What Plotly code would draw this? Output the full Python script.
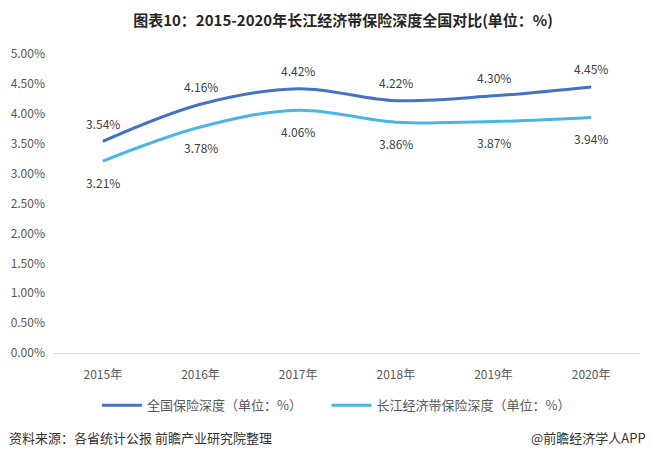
import plotly.graph_objects as go

# data
years = ['2015年', '2016年', '2017年', '2018年', '2019年', '2020年']
national = [3.54, 4.16, 4.42, 4.22, 4.30, 4.45]
yangtze = [3.21, 3.78, 4.06, 3.86, 3.87, 3.94]

font_family = 'Noto Sans CJK SC, Microsoft YaHei, sans-serif'
text_color = '#404040'

fig = go.Figure()

fig.add_trace(go.Scatter(
    x=years, y=national,
    name='全国保险深度（单位：%）\u3000\u3000',
    mode='lines',
    line=dict(color='#4472C4', width=3, shape='spline', smoothing=1.0),
))

fig.add_trace(go.Scatter(
    x=years, y=yangtze,
    name='长江经济带保险深度（单位：%）',
    mode='lines',
    line=dict(color='#4BB5E6', width=3, shape='spline', smoothing=1.0),
))

# value labels
for yr, v in zip(years, national):
    fig.add_annotation(x=yr, y=v, text=f'{v:.2f}%', showarrow=False,
                       yshift=18, font=dict(size=12, color=text_color))
for yr, v in zip(years, yangtze):
    fig.add_annotation(x=yr, y=v, text=f'{v:.2f}%', showarrow=False,
                       yshift=-21, font=dict(size=12, color=text_color))

fig.update_layout(
    width=651, height=456,
    margin=dict(l=54, r=11, t=54, b=103),
    paper_bgcolor='white',
    plot_bgcolor='white',
    font=dict(family=font_family, size=12, color='#595959'),
    title=dict(
        text='<b>图表10：2015-2020年长江经济带保险深度全国对比(单位：%)</b>',
        x=0.527, xanchor='center', y=0.955, yanchor='middle',
        font=dict(size=15, color='#262626', family=font_family),
    ),
    showlegend=True,
    legend=dict(
        orientation='h', x=0.482, xanchor='center', y=-0.175, yanchor='middle',
        font=dict(size=13, color='#595959'),
        itemwidth=40, traceorder='normal',
    ),
    xaxis=dict(
        range=[-0.5, 5.5],
        showgrid=False, showline=True, linecolor='#d9d9d9', linewidth=1,
        ticks='', ticklabelstandoff=11,
        tickfont=dict(size=12, color='#595959'),
    ),
    yaxis=dict(
        range=[0, 5], dtick=0.5, tickformat='.2f', ticksuffix='%',
        showgrid=False, zeroline=False, showline=False,
        ticklabelstandoff=8,
        tickfont=dict(size=12, color='#595959'),
    ),
)

fig.add_annotation(
    text='资料来源：各省统计公报 前瞻产业研究院整理',
    xref='paper', yref='paper', x=-0.08, y=-0.282,
    xanchor='left', yanchor='middle', showarrow=False,
    font=dict(size=13, color='#333333'),
)
fig.add_annotation(
    text='@前瞻经济学人APP',
    xref='paper', yref='paper', x=1.014, y=-0.282,
    xanchor='right', yanchor='middle', showarrow=False,
    font=dict(size=13, color='#333333'),
)

fig.write_html('out.html', config={'displayModeBar': False},
               post_script="document.body.style.margin='0';")
